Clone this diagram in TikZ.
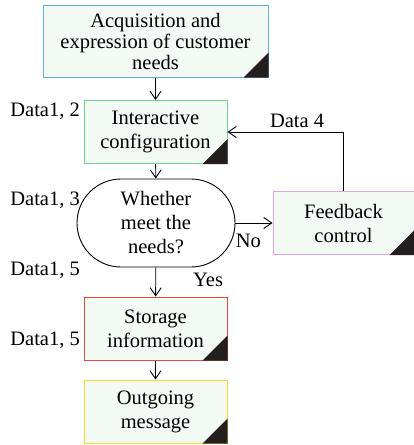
\documentclass[tikz,border=0pt]{standalone}
\usepackage{fontspec}
\setmainfont{Liberation Serif}
\usetikzlibrary{arrows.meta, shapes.misc}

\definecolor{boxfill}{HTML}{F3FAF4}
\definecolor{cornerdark}{HTML}{231F20}
\definecolor{acqblue}{HTML}{62B6DE}
\definecolor{intergreen}{HTML}{6ED38C}
\definecolor{feedpurple}{HTML}{DBA6E6}
\definecolor{storered}{HTML}{E5483B}
\definecolor{outyellow}{HTML}{F0E22A}

\begin{document}
\begin{tikzpicture}[x=1pt, y=-1pt,
    every node/.style={font=\fontsize{20.5}{24}\selectfont, align=center, inner sep=0pt},
    box/.style={draw, fill=boxfill, line width=1pt, minimum width=143pt, minimum height=63pt},
    flow/.style={-{Straight Barb[length=8pt, width=11pt]}, line width=0.9pt}]
    \useasboundingbox (0,0) rectangle (414,445);

    \node[box, draw=acqblue, minimum width=225pt, minimum height=72pt,
          font=\fontsize{20.5}{21}\selectfont] (acq) at (155.5,41)
        {Acquisition and\\expression of customer\\needs};
    \node[box, draw=intergreen] (inter) at (155.5,132) {Interactive\\configuration};
    \node[draw, rounded rectangle, line width=0.9pt, fill=white,
          minimum width=158pt, minimum height=88pt] (judge) at (156,223)
        {Whether\\meet the\\needs?};
    \node[box, draw=feedpurple, minimum width=141pt] (feed) at (343.5,223) {Feedback\\control};
    \node[box, draw=storered] (store) at (155.5,328.5) {Storage\\information};
    \node[box, draw=outyellow] (out) at (155.5,411.5) {Outgoing\\message};

    % dark corner marks
    \foreach \b in {acq, inter, feed, store, out}
        \fill[cornerdark] (\b.south east) -- ++(-25,0) -- ++(25,-25) -- cycle;

    \node[anchor=east] (d12) at (80,111) {Data1, 2};
    \node[anchor=east] (d13) at (80,200) {Data1, 3};
    \node[anchor=east] (d15a) at (80,270) {Data1, 5};
    \node[anchor=east] (d15b) at (80,340) {Data1, 5};

    \draw[flow] (acq) -- (inter);
    \draw[flow] (inter) -- (judge);
    \draw[flow] (judge.east) -- (feed.west) node[pos=0.35, below=11pt] {No};
    \draw[flow] (judge) -- (store) node[pos=0.43, right=37pt] {Yes};
    \draw[flow] (store) -- (out);
    \draw[flow] (feed.north) |- (inter.east) node[pos=0.7, above=4pt] {Data 4};
\end{tikzpicture}
\end{document}
